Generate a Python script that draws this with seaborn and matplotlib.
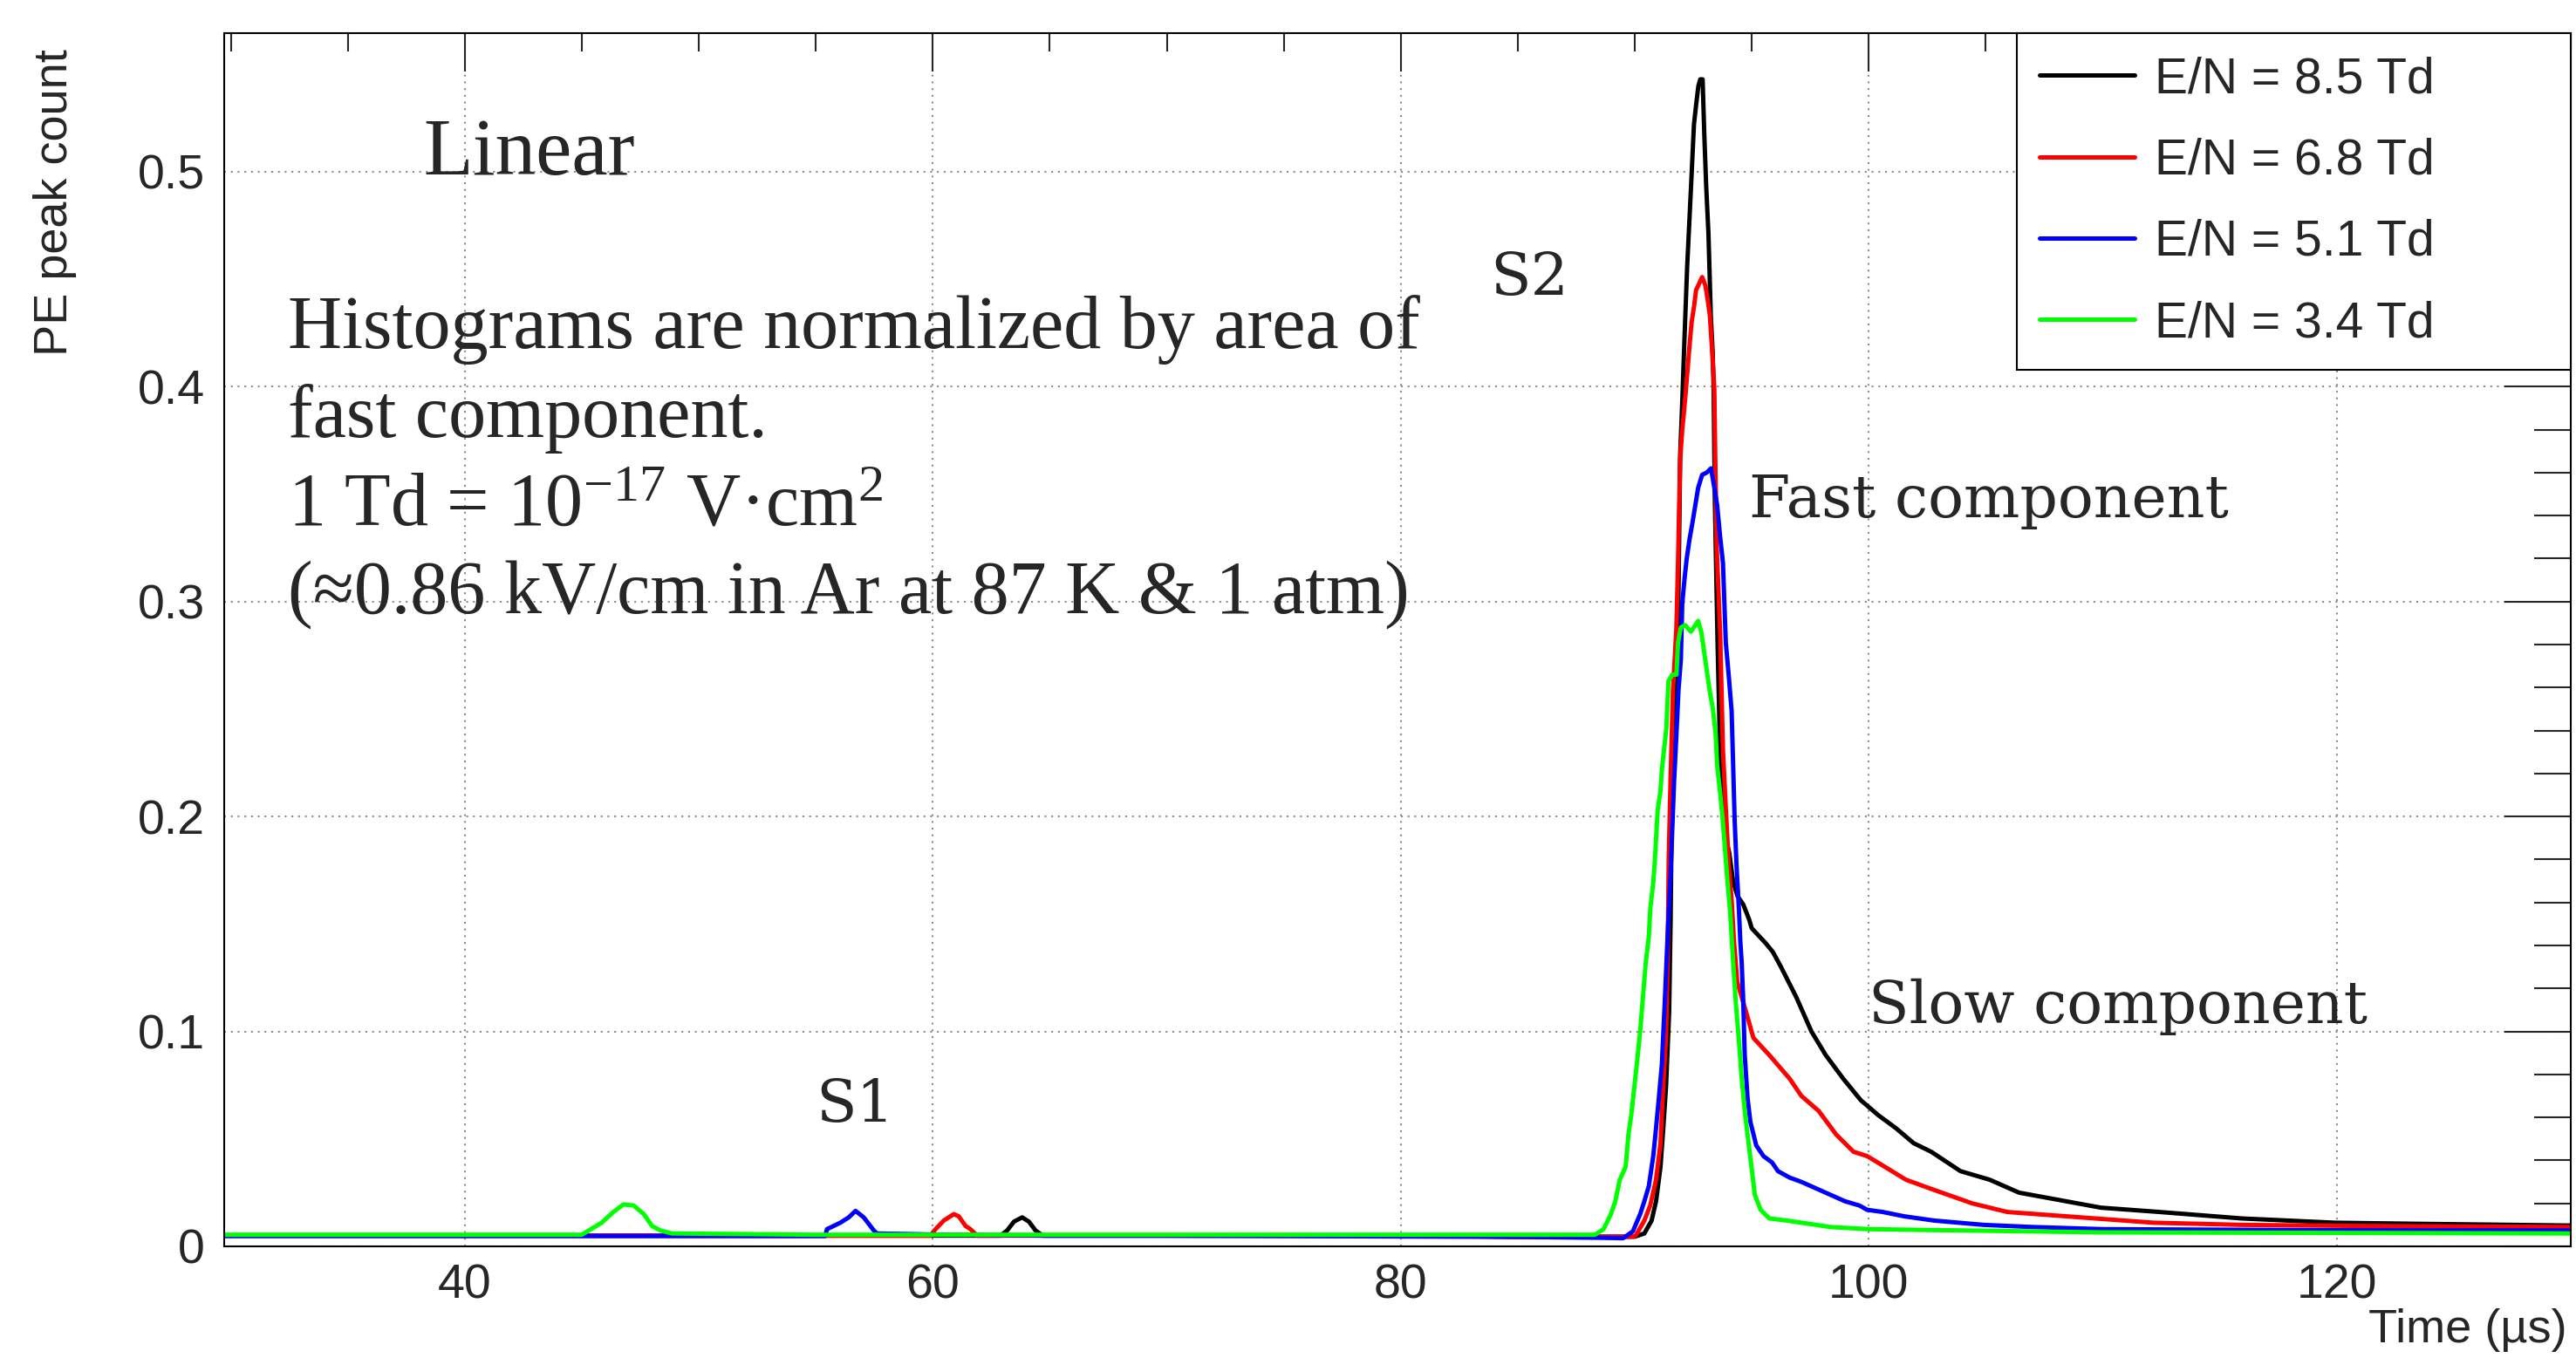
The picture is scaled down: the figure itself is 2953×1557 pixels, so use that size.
import matplotlib
matplotlib.use('Agg')
import matplotlib.pyplot as plt
from matplotlib.ticker import MultipleLocator, FuncFormatter
import seaborn as sns
import pandas as pd

# Four step-histograms (time in us, normalised PE peak count)
labels = ['E/N = 8.5 Td', 'E/N = 6.8 Td', 'E/N = 5.1 Td', 'E/N = 3.4 Td']
colors = ['#000000', '#ff0000', '#0000ff', '#00ff00']

curve_85 = [(29.7, 0.005), (35, 0.005), (40, 0.005), (45, 0.005), (50, 0.005), (55, 0.005),
            (60, 0.005), (62.9, 0.005), (63.18, 0.0074), (63.47, 0.0115), (63.82, 0.0135),
            (64.11, 0.0115), (64.39, 0.0074), (64.7, 0.005), (70, 0.005), (75, 0.005),
            (80, 0.005), (85, 0.0045), (88, 0.0045), (90.0, 0.0045), (90.41, 0.006),
            (90.72, 0.012), (90.91, 0.021), (91.10, 0.037), (91.22, 0.055), (91.34, 0.075),
            (91.47, 0.109), (91.53, 0.150), (91.58, 0.200), (91.63, 0.223), (91.72, 0.259),
            (91.85, 0.289), (91.91, 0.340), (91.94, 0.368), (92.03, 0.393), (92.13, 0.424),
            (92.24, 0.456), (92.32, 0.474), (92.40, 0.492), (92.53, 0.522), (92.62, 0.531),
            (92.72, 0.540), (92.80, 0.543), (92.90, 0.543), (92.97, 0.518), (93.05, 0.494),
            (93.15, 0.471), (93.25, 0.433), (93.33, 0.416), (93.37, 0.400), (93.42, 0.349),
            (93.48, 0.314), (93.54, 0.280), (93.65, 0.228), (93.74, 0.211), (93.89, 0.190),
            (94.04, 0.183), (94.20, 0.170), (94.39, 0.163), (94.64, 0.159), (94.89, 0.152),
            (95.0, 0.148), (95.6, 0.141), (95.9, 0.137), (96.25, 0.130), (96.9, 0.116),
            (97.55, 0.100), (98.16, 0.089), (98.91, 0.078), (99.66, 0.068), (100.41, 0.061),
            (101.16, 0.055), (101.92, 0.048), (102.67, 0.044), (103.92, 0.035), (105.17, 0.031),
            (106.42, 0.025), (107.92, 0.022), (109.92, 0.018), (112.42, 0.016), (115.92, 0.013),
            (119.92, 0.011), (123.4, 0.0105), (130.0, 0.0097)]

curve_68 = [(29.7, 0.005), (35, 0.005), (40, 0.005), (45, 0.005), (50, 0.005), (55, 0.005),
            (59.9, 0.005), (60.12, 0.008), (60.47, 0.012), (60.90, 0.015), (61.11, 0.014),
            (61.4, 0.0095), (61.61, 0.008), (61.9, 0.005), (65, 0.005), (70, 0.005),
            (75, 0.005), (80, 0.005), (85, 0.0045), (88, 0.0045), (89.9, 0.0045),
            (90.04, 0.005), (90.41, 0.012), (90.66, 0.019), (90.91, 0.031), (91.10, 0.048),
            (91.22, 0.075), (91.34, 0.098), (91.41, 0.136), (91.45, 0.180), (91.53, 0.217),
            (91.63, 0.258), (91.78, 0.288), (91.85, 0.319), (91.94, 0.366), (92.03, 0.380),
            (92.16, 0.395), (92.25, 0.407), (92.34, 0.419), (92.43, 0.430), (92.53, 0.437),
            (92.62, 0.445), (92.71, 0.447), (92.88, 0.451), (93.02, 0.447), (93.11, 0.441),
            (93.21, 0.433), (93.31, 0.416), (93.40, 0.399), (93.45, 0.360), (93.50, 0.326),
            (93.65, 0.285), (93.77, 0.231), (93.89, 0.204), (94.02, 0.177), (94.14, 0.161),
            (94.24, 0.142), (94.38, 0.123), (94.76, 0.109), (95.07, 0.097), (95.75, 0.089),
            (96.62, 0.078), (97.12, 0.070), (97.86, 0.063), (98.61, 0.052), (99.35, 0.044),
            (99.93, 0.042), (100.84, 0.036), (101.59, 0.031), (102.6, 0.027), (104.42, 0.020),
            (105.92, 0.016), (108.42, 0.014), (112.17, 0.011), (115.9, 0.010), (120.9, 0.0095),
            (130.0, 0.009)]

curve_51 = [(29.7, 0.0048), (35, 0.0048), (40, 0.0048), (45, 0.0048), (50, 0.0048),
            (55.4, 0.0048), (55.48, 0.008), (56.05, 0.011), (56.41, 0.0135), (56.70, 0.0165),
            (57.05, 0.0135), (57.48, 0.0074), (57.62, 0.006), (60, 0.0055), (65, 0.005),
            (70, 0.005), (75, 0.0048), (80, 0.0046), (85, 0.0044), (88.5, 0.004), (89.5, 0.0038),
            (89.92, 0.007), (90.23, 0.015), (90.41, 0.021), (90.60, 0.028), (90.79, 0.042),
            (90.91, 0.055), (91.03, 0.069), (91.16, 0.085), (91.28, 0.113), (91.41, 0.146),
            (91.53, 0.173), (91.60, 0.193), (91.68, 0.216), (91.78, 0.238), (91.87, 0.259),
            (91.97, 0.273), (92.03, 0.299), (92.13, 0.311), (92.22, 0.320), (92.34, 0.329),
            (92.47, 0.337), (92.59, 0.345), (92.71, 0.353), (92.88, 0.359), (93.07, 0.360),
            (93.26, 0.362), (93.40, 0.353), (93.52, 0.345), (93.65, 0.330), (93.77, 0.318),
            (93.89, 0.281), (94.02, 0.265), (94.14, 0.249), (94.27, 0.198), (94.35, 0.177),
            (94.45, 0.157), (94.51, 0.142), (94.57, 0.132), (94.63, 0.116), (94.70, 0.089),
            (94.82, 0.069), (94.94, 0.058), (95.19, 0.047), (95.50, 0.042), (95.87, 0.039),
            (96.12, 0.035), (96.62, 0.032), (97.12, 0.030), (97.74, 0.027), (98.36, 0.024),
            (98.98, 0.021), (99.60, 0.019), (99.93, 0.017), (100.6, 0.016), (101.5, 0.014),
            (102.8, 0.012), (104.9, 0.010), (107.0, 0.009), (110.0, 0.008), (120.0, 0.0075),
            (130.0, 0.0074)]

curve_34 = [(29.7, 0.0054), (35, 0.0054), (40, 0.0054), (45.0, 0.0054), (45.35, 0.0077),
            (45.85, 0.011), (46.35, 0.016), (46.78, 0.0195), (47.22, 0.019), (47.65, 0.015),
            (48.0, 0.0095), (48.36, 0.0074), (48.86, 0.006), (55, 0.0054), (60, 0.0054),
            (65, 0.0054), (70, 0.0054), (75, 0.0054), (80, 0.0054), (85, 0.0054), (88.3, 0.0054),
            (88.67, 0.008), (88.98, 0.015), (89.17, 0.021), (89.36, 0.031), (89.61, 0.037),
            (89.73, 0.052), (89.85, 0.061), (89.98, 0.074), (90.10, 0.086), (90.23, 0.100),
            (90.35, 0.116), (90.47, 0.132), (90.60, 0.144), (90.67, 0.158), (90.79, 0.169),
            (90.85, 0.178), (90.98, 0.203), (91.10, 0.212), (91.16, 0.222), (91.25, 0.231),
            (91.35, 0.241), (91.44, 0.263), (91.60, 0.266), (91.78, 0.266), (91.85, 0.281),
            (91.97, 0.288), (92.16, 0.289), (92.40, 0.286), (92.71, 0.291), (92.84, 0.286),
            (92.96, 0.277), (93.09, 0.267), (93.21, 0.258), (93.34, 0.250), (93.46, 0.238),
            (93.52, 0.224), (93.65, 0.211), (93.77, 0.197), (93.89, 0.180), (93.96, 0.170),
            (94.08, 0.155), (94.20, 0.133), (94.32, 0.113), (94.45, 0.096), (94.57, 0.078),
            (94.70, 0.063), (94.82, 0.052), (95.01, 0.035), (95.13, 0.024), (95.38, 0.017),
            (95.75, 0.013), (96.50, 0.012), (97.12, 0.011), (98.36, 0.009), (100.0, 0.008),
            (110.0, 0.0065), (130.0, 0.006)]

curves = [curve_85, curve_68, curve_51, curve_34]

# long table for seaborn
rows = []
for label, curve in zip(labels, curves):
    for t, v in curve:
        rows.append({'time': t, 'count': v, 'field': label})
df = pd.DataFrame(rows)

sns.set_style('white')
plt.rcParams['font.family'] = ['Liberation Sans', 'DejaVu Sans']
plt.rcParams['mathtext.fontset'] = 'custom'
plt.rcParams['mathtext.rm'] = 'Liberation Serif'
plt.rcParams['mathtext.default'] = 'regular'

fig = plt.figure(figsize=(29.53, 15.57), dpi=100)
ax = fig.add_axes([0.08703, 0.08221, 0.91094, 0.89339])

sns.lineplot(data=df, x='time', y='count', hue='field', hue_order=labels,
             palette=colors, estimator=None, sort=False, linewidth=3.6,
             legend=False, ax=ax)

ax.set_xlim(29.72, 130.0)
ax.set_ylim(0, 0.5645)
ax.set_xlabel('')
ax.set_ylabel('')

# ROOT-like axes: inward ticks on all sides, dotted grid at major ticks
ax.xaxis.set_major_locator(MultipleLocator(20))
ax.xaxis.set_minor_locator(MultipleLocator(5))
ax.yaxis.set_major_locator(MultipleLocator(0.1))
ax.yaxis.set_minor_locator(MultipleLocator(0.02))
ax.yaxis.set_major_formatter(FuncFormatter(lambda v, p: '0' if abs(v) < 1e-9 else f'{v:.1f}'))
ax.tick_params(axis='x', which='major', direction='in', length=32, width=1.5,
               top=True, labelsize=40, pad=14)
ax.tick_params(axis='x', which='minor', direction='in', length=15, width=1.5, top=True)
ax.tick_params(axis='y', which='major', direction='in', length=55, width=1.5,
               right=True, labelsize=40, pad=16)
ax.tick_params(axis='y', which='minor', direction='in', length=30, width=1.5, right=True)
for s in ax.spines.values():
    s.set_linewidth(1.5)
    s.set_color('black')
ax.set_axisbelow(True)
ax.grid(which='major', color='#8c8c8c', linestyle=(0, (1, 2.7)), linewidth=1.5)

# axis titles placed like ROOT (at the axis ends)
ax.text(-0.0721, 0.987, 'PE peak count', rotation=90, ha='center', va='top',
        fontsize=39, transform=ax.transAxes)
ax.text(0.9985, -0.069, 'Time (µs)', ha='right', va='center',
        fontsize=39, transform=ax.transAxes)

# annotations
serif = ['Liberation Serif', 'DejaVu Serif']
ax.text(38.25, 0.4988, 'Linear', family=serif, fontsize=67, va='baseline')
ax.text(32.44, 0.418, 'Histograms are normalized by area of', family=serif,
        fontsize=62, va='baseline')
ax.text(32.44, 0.3766, 'fast component.', family=serif, fontsize=62, va='baseline')
ax.text(32.44, 0.3356, r'1 Td = 10$^{-17}$ V·cm$^{2}$', family=serif, fontsize=62,
        va='baseline')
ax.text(32.44, 0.2946, '(≈0.86 kV/cm in Ar at 87 K & 1 atm)', family=serif,
        fontsize=62, va='baseline')

ax.text(83.83, 0.4428, 'S2', family='DejaVu Serif', fontsize=49, va='baseline')
ax.text(55.01, 0.058, 'S1', family='DejaVu Serif', fontsize=49, va='baseline')
ax.text(94.9, 0.3393, 'Fast component', family='DejaVu Serif', fontsize=49, va='baseline')
ax.text(100.0, 0.1037, 'Slow component', family='DejaVu Serif', fontsize=49, va='baseline')

# legend box in the top right corner
handles = ax.get_lines()[:4]
leg = ax.legend(handles, labels, loc='upper left', bbox_to_anchor=(0.764, 0, 0.236, 1.0),
                mode='expand', borderaxespad=0, fontsize=41, handlelength=1.9,
                handletextpad=0.42, labelspacing=0.69, borderpad=0.46,
                frameon=True, fancybox=False, edgecolor='black', framealpha=1)
leg.get_frame().set_linewidth(1.5)

fig.savefig('out.png', dpi=100)
